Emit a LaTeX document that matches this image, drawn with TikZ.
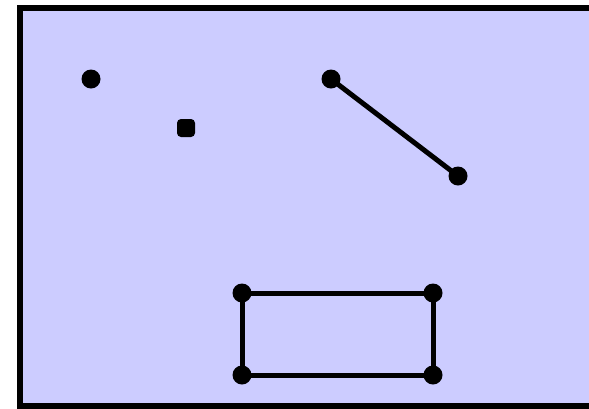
\documentclass[tikz,border=0pt]{standalone}
\definecolor{lav}{HTML}{CCCCFF}
\begin{document}
\begin{tikzpicture}[x=1bp,y=-1bp,
  pt/.style={circle,fill=black,inner sep=0pt,minimum size=19bp},
  sq/.style={rectangle,rounded corners=4bp,fill=black,inner sep=0pt,minimum size=18bp},
  seg/.style={line width=5bp,black}]
\useasboundingbox (0,0) rectangle (589,408);
\draw[fill=lav,line width=6bp] (19.5,8) rectangle (610,405.5);
\node[pt] (a) at (91,79) {};
\node[sq] (s) at (186,128) {};
\node[pt] (l1) at (331,79) {};
\node[pt] (l2) at (458,176) {};
\node[pt] (r1) at (242,293) {};
\node[pt] (r2) at (433,293) {};
\node[pt] (r3) at (433,375) {};
\node[pt] (r4) at (242,375) {};
\draw[seg] (l1.center) -- (l2.center);
\draw[seg] (r1.center) -- (r2.center) -- (r3.center) -- (r4.center) -- cycle;
\end{tikzpicture}
\end{document}
